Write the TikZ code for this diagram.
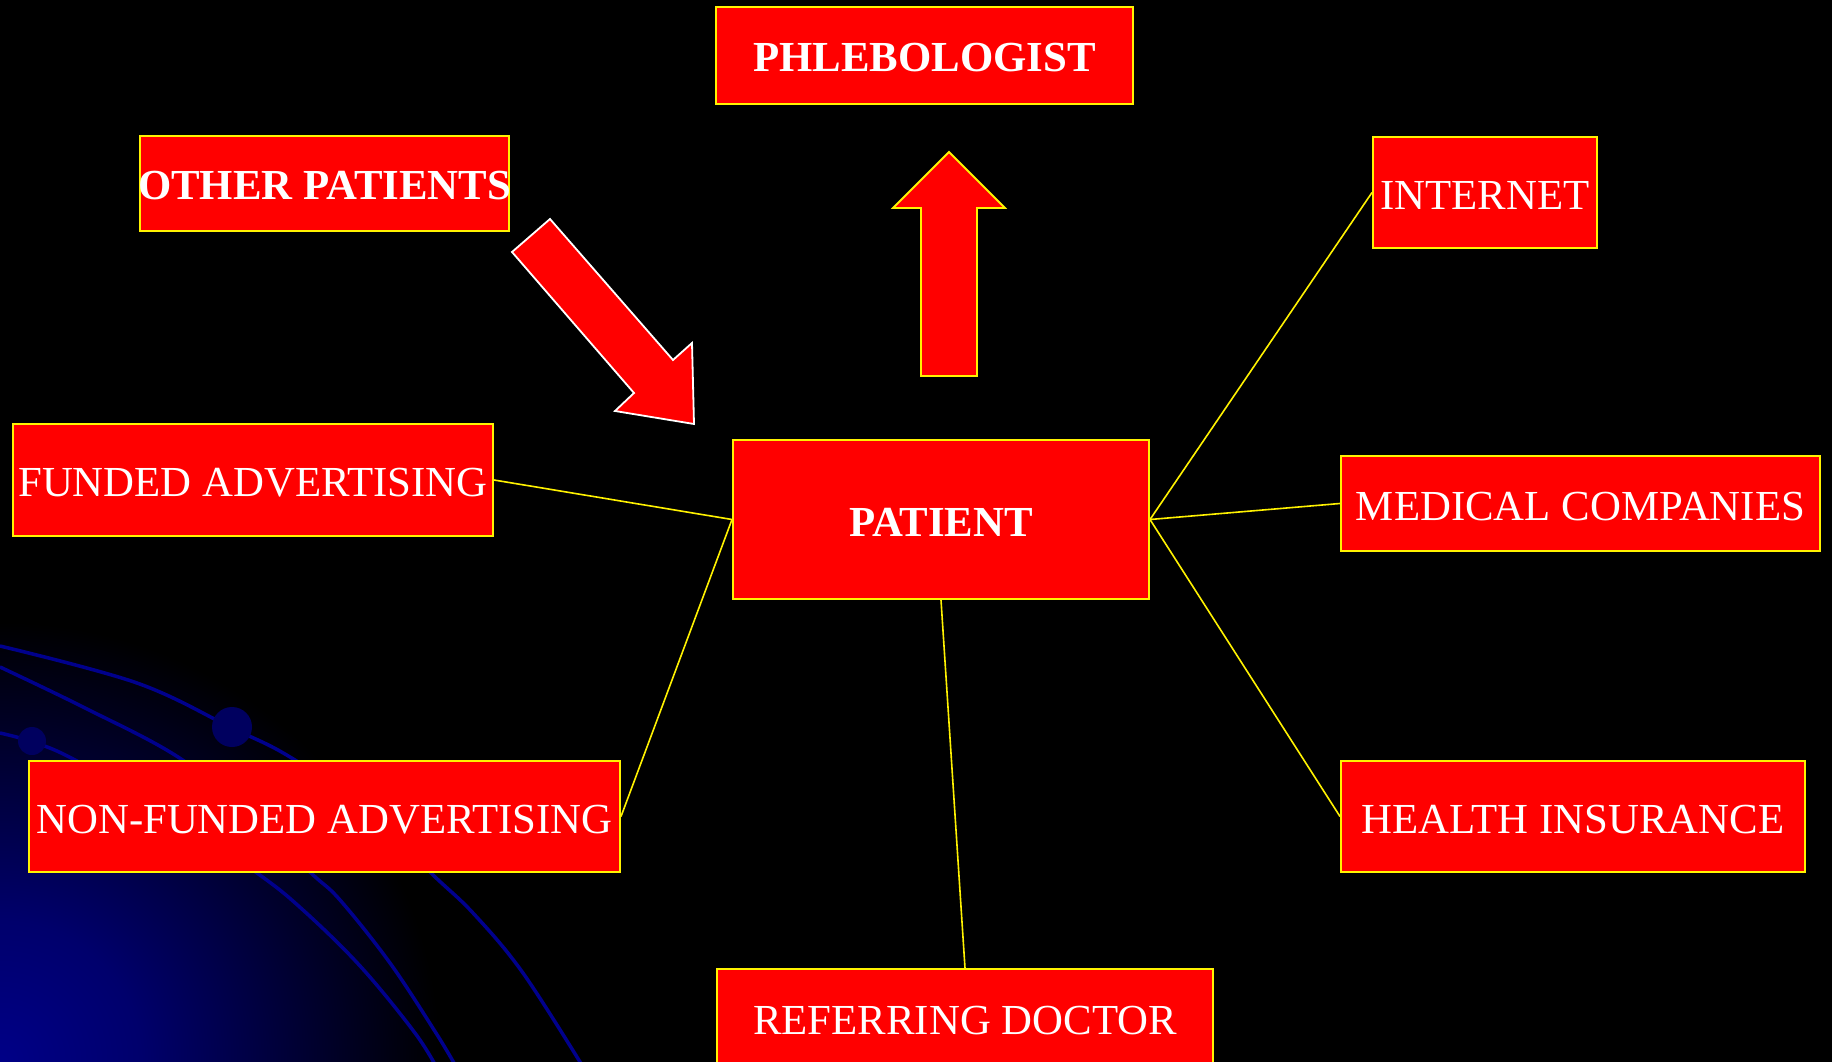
\documentclass[tikz,border=0pt]{standalone}
\usepackage{fontspec}
\setmainfont{Liberation Serif}
\definecolor{navy}{RGB}{0,0,140}
\definecolor{dotc}{RGB}{0,0,95}
\definecolor{glowc}{RGB}{0,0,135}
\pgfdeclareradialshading{glow}{\pgfpoint{0bp}{0bp}}{color(0bp)=(glowc); color(8bp)=(glowc!80!black); color(25bp)=(black); color(50bp)=(black)}
\begin{document}
\begin{tikzpicture}[x=1pt,y=-1pt,
  box/.style={draw=yellow, line width=2pt, fill=red, text=white, inner sep=0pt,
              text height=33pt, text depth=0pt,
              font=\fontsize{42.8}{50}\selectfont},
  boldbox/.style={box, font=\fontsize{42.8}{50}\selectfont\bfseries},
  link/.style={draw=yellow, line width=1.6pt},
  bgcurve/.style={draw=navy, line width=3.5pt},
  bigarrow/.style={fill=red, line width=1.8pt, line join=miter}]
\clip (0,0) rectangle (1832,1062);
\fill[black] (0,0) rectangle (1832,1062);
\shade[shading=glow] (0,1062) circle (440pt);
% background curves
\draw[bgcurve] plot[smooth, tension=0.6] coordinates {(0,646) (137,683) (232,728) (290,757) (370,812) (431,873) (473,913) (523,973) (585,1070)};
\draw[bgcurve] plot[smooth, tension=0.6] coordinates {(0,667) (83,707) (178,757) (250,815) (311,873) (340,900) (390,963) (436,1033) (458,1070)};
\draw[bgcurve] plot[smooth, tension=0.6] coordinates {(0,733) (33,742) (75,760) (170,815) (257,873) (303,910) (361,967) (415,1033) (438,1070)};
\fill[dotc] (232,727) circle (20pt);
\fill[dotc] (32,741) circle (14pt);
% boxes
\node[boldbox, minimum width=417pt, minimum height=97pt] (phl) at (924.5,55.5) {PHLEBOLOGIST};
\node[boldbox, minimum width=369pt, minimum height=95pt] (other) at (324.5,183.5) {\makebox[0pt]{OTHER PATIENTS}};
\node[box, minimum width=224pt, minimum height=111pt] (internet) at (1485,192.5) {INTERNET};
\node[box, minimum width=480pt, minimum height=112pt] (funded) at (253,480) {FUNDED ADVERTISING};
\node[boldbox, minimum width=416pt, minimum height=159pt] (patient) at (941,519.5) {PATIENT};
\node[box, minimum width=479pt, minimum height=95pt] (medical) at (1580.5,503.5) {MEDICAL COMPANIES};
\node[box, minimum width=591pt, minimum height=111pt] (nonfunded) at (324.5,816.5) {NON-FUNDED ADVERTISING};
\node[box, minimum width=464pt, minimum height=111pt] (health) at (1573,816.5) {HEALTH INSURANCE};
\node[box, minimum width=496pt, minimum height=98pt] (referring) at (965,1018) {REFERRING DOCTOR};
% connectors
\draw[link] (funded.east) -- (patient.west);
\draw[link] (nonfunded.east) -- (patient.west);
\draw[link] (patient.east) -- (internet.west);
\draw[link] (patient.east) -- (medical.west);
\draw[link] (patient.east) -- (health.west);
\draw[link] (patient.south) -- (referring.north);
% block arrows
\draw[bigarrow, draw=yellow] (949,152) -- (1005,208) -- (977,208) -- (977,376) -- (921,376) -- (921,208) -- (893,208) -- cycle;
\draw[bigarrow, draw=white] (550,219) -- (673,360) -- (692,343) -- (694,424) -- (615,411) -- (634,393) -- (512,252) -- cycle;
\end{tikzpicture}
\end{document}
